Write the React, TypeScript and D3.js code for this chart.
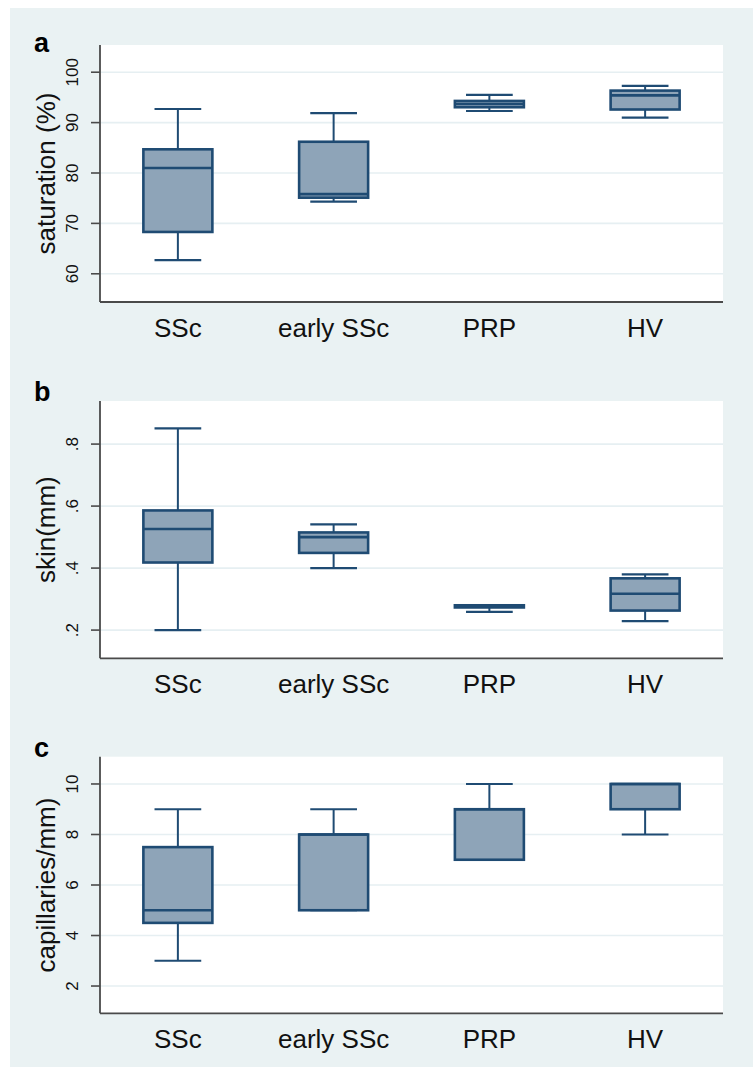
import React from "react";
import * as d3 from "d3";

// ---- data ----
const categories = ["SSc", "early SSc", "PRP", "HV"];

// [lower whisker, Q1, median, Q3, upper whisker]
const saturationStats = [
  [62.7, 68.3, 81.0, 84.7, 92.7],
  [74.3, 75.1, 75.8, 86.2, 91.9],
  [92.3, 93.05, 93.7, 94.3, 95.5],
  [91.0, 92.6, 95.4, 96.35, 97.3],
];
const skinStats = [
  [0.2, 0.418, 0.526, 0.586, 0.851],
  [0.4, 0.449, 0.5, 0.515, 0.541],
  [0.259, 0.273, 0.277, 0.28, 0.28],
  [0.229, 0.263, 0.317, 0.367, 0.38],
];
const capillaryStats = [
  [3, 4.5, 5, 7.5, 9],
  [5, 5, 8, 8, 9],
  [7, 7, 9, 9, 10],
  [8, 9, 10, 10, 10],
];

const saturationTicks = [60, 70, 80, 90, 100];
const saturationTickLabels = ["60", "70", "80", "90", "100"];
const skinTicks = [0.2, 0.4, 0.6, 0.8];
const skinTickLabels = [".2", ".4", ".6", ".8"];
const capillaryTicks = [2, 4, 6, 8, 10];
const capillaryTickLabels = ["2", "4", "6", "8", "10"];

const panelLetters = ["a", "b", "c"];
const yTitles = ["saturation (%)", "skin(mm)", "capillaries/mm)"];

// ---- style / layout ----
const W = 753;
const H = 1068;
const FONT = "'Liberation Sans', Arial, Helvetica, sans-serif";
const BG = "#eaf2f3";
const GRID = "#e6eff2";
const BOX_FILL = "#8ea4b8";
const BOX_STROKE = "#1f4b73";
const AXIS = "#4a4a4a";
const plotLeft = 100;
const plotRight = 723;

const panels = [
  { stats: saturationStats, ticks: saturationTicks, labels: saturationTickLabels, domain: [54.4, 105.4], top: 45, bottom: 302, letterY: 52 },
  { stats: skinStats, ticks: skinTicks, labels: skinTickLabels, domain: [0.109, 0.939], top: 401, bottom: 658.3, letterY: 401 },
  { stats: capillaryStats, ticks: capillaryTicks, labels: capillaryTickLabels, domain: [0.92, 11.08], top: 756.7, bottom: 1013.3, letterY: 757 },
];

function Panel({ p, idx }: { p: any; idx: number }) {
  const x = d3.scaleBand<string>().domain(categories).range([plotLeft, plotRight]).padding(0);
  const y = d3.scaleLinear().domain(p.domain).range([p.bottom, p.top]);
  const bw = x.bandwidth();
  const boxW = bw * 0.443;
  const capW = bw * 0.3;
  const midY = (p.top + p.bottom) / 2;
  return (
    <g>
      <rect x={plotLeft} y={p.top} width={plotRight - plotLeft} height={p.bottom - p.top} fill="#ffffff" />
      {p.ticks.map((t: number, i: number) => (
        <g key={i}>
          <line x1={plotLeft} x2={plotRight} y1={y(t)} y2={y(t)} stroke={GRID} strokeWidth={1.6} />
          <line x1={plotLeft - 9} x2={plotLeft} y1={y(t)} y2={y(t)} stroke={AXIS} strokeWidth={1.6} />
          <text
            transform={`translate(${plotLeft - 22.5},${y(t)}) rotate(-90)`}
            textAnchor="middle"
            fontSize={17}
            fontFamily={FONT}
            fill="#111"
          >
            {p.labels[i]}
          </text>
        </g>
      ))}
      {p.stats.map((s: number[], i: number) => {
        const cx = (x(categories[i]) as number) + bw / 2;
        const [lo, q1, med, q3, hi] = s;
        return (
          <g key={i}>
            <line x1={cx} x2={cx} y1={y(hi)} y2={y(q3)} stroke={BOX_STROKE} strokeWidth={2} />
            <line x1={cx} x2={cx} y1={y(q1)} y2={y(lo)} stroke={BOX_STROKE} strokeWidth={2} />
            <line x1={cx - capW / 2} x2={cx + capW / 2} y1={y(hi)} y2={y(hi)} stroke={BOX_STROKE} strokeWidth={2.2} />
            <line x1={cx - capW / 2} x2={cx + capW / 2} y1={y(lo)} y2={y(lo)} stroke={BOX_STROKE} strokeWidth={2.2} />
            <rect
              x={cx - boxW / 2}
              y={y(q3)}
              width={boxW}
              height={Math.max(0.01, y(q1) - y(q3))}
              fill={BOX_FILL}
              stroke={BOX_STROKE}
              strokeWidth={2.6}
            />
            <line x1={cx - boxW / 2} x2={cx + boxW / 2} y1={y(med)} y2={y(med)} stroke={BOX_STROKE} strokeWidth={2.6} />
          </g>
        );
      })}
      <line x1={plotLeft} x2={plotLeft} y1={p.top} y2={p.bottom} stroke={AXIS} strokeWidth={1.8} />
      <line x1={plotLeft} x2={plotRight} y1={p.bottom} y2={p.bottom} stroke={AXIS} strokeWidth={1.8} />
      {categories.map((c, i) => (
        <text
          key={c}
          x={(x(c) as number) + bw / 2}
          y={p.bottom + 35}
          textAnchor="middle"
          fontSize={26}
          fontFamily={FONT}
          fill="#111"
        >
          {c}
        </text>
      ))}
      <text
        transform={`translate(55,${midY}) rotate(-90)`}
        textAnchor="middle"
        fontSize={26}
        fontFamily={FONT}
        fill="#111"
      >
        {yTitles[idx]}
      </text>
      <text x={34} y={p.letterY} fontSize={27} fontWeight="bold" fontFamily={FONT} fill="#000">
        {panelLetters[idx]}
      </text>
    </g>
  );
}

export default function App() {
  return (
    <svg
      width={W}
      height={H}
      style={{ position: "absolute", left: 0, top: 0, background: "#ffffff" }}
    >
      <rect x={10} y={8} width={W - 10} height={H - 9} fill={BG} />
      {panels.map((p, i) => (
        <Panel key={i} p={p} idx={i} />
      ))}
    </svg>
  );
}
